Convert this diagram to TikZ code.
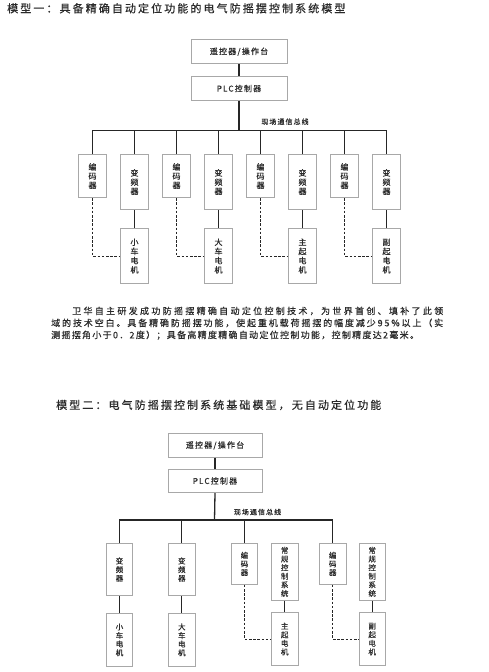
\documentclass[tikz,border=0pt]{standalone}
\usepackage{fontspec}
\setmainfont{Noto Sans CJK SC}
\newfontfamily\cjktitle[LetterSpace=19, FakeBold=0.6]{Noto Sans CJK SC}
\newfontfamily\cjkbox[LetterSpace=15, FakeBold=0.5]{Noto Sans CJK SC}
\newfontfamily\cjkpara[FakeBold=0.5]{Noto Sans CJK SC}
\usetikzlibrary{positioning}
\definecolor{ink}{HTML}{2A2A2A}
\definecolor{frame}{HTML}{A8A8A8}
% glue after every character of a line, so that it can be spread
\ExplSyntaxOn
\NewDocumentCommand\spreadtext{m}{\tl_map_inline:nn {#1} {##1\hskip 1.3pt plus 4pt}\unskip}
\ExplSyntaxOff

\begin{document}
\begin{tikzpicture}[
  x=1pt, y=-1pt,
  block/.style={
    draw=frame,
    line width=.8pt,
    fill=white,
    inner sep=0pt,
    align=center,
    text=ink
  },
  wide/.style={block, minimum width=96pt, minimum height=24pt,
    font=\cjkbox\fontsize{8}{9}\selectfont},
  tall/.style={block, anchor=north, minimum width=28.4pt,
    font=\cjkbox\fontsize{8}{9.2}\selectfont},
  narrow/.style={block, anchor=north, minimum width=26.6pt,
    font=\cjkbox\fontsize{7.5}{8.6}\selectfont},
  coder/.style={tall, minimum height=43.3pt},
  drive/.style={tall, minimum height=55.3pt},
  motor/.style={tall, minimum height=55pt},
  link/.style={draw=black!85, line width=1.3pt},
  sensor/.style={draw=black!85, line width=.9pt, dash pattern=on 2.6pt off 1.6pt},
  heading/.style={anchor=west, inner sep=0pt, text=ink,
    font=\cjktitle\fontsize{11}{13}\selectfont},
  buslabel/.style={inner sep=0pt, text=ink,
    font=\cjkbox\fontsize{7}{8}\selectfont}
]
\useasboundingbox (0,0) rectangle (489,672);

% model one
\node[heading] (title-a) at (7,8.3)
  {模型一：具备精确自动定位功能的电气防摇摆控制系统模型};
\node[wide, anchor=north] (remote-a) at (239,39.3) {遥控器/操作台};
\node[wide, below=12pt of remote-a] (plc-a) {PLC控制器};
\coordinate (bus-a) at (239,130.5);
\node[buslabel] (label-a) at (285,121.7) {现场通信总线};

\node[coder] (enc-a1) at (92.5,154) {编\\码\\器};
\node[drive] (inv-a1) at (134.5,154) {变\\频\\器};
\node[motor, below=18pt of inv-a1] (mot-a1) {小\\车\\电\\机};
\node[coder] (enc-a2) at (176.5,154) {编\\码\\器};
\node[drive] (inv-a2) at (218.5,154) {变\\频\\器};
\node[motor, below=18pt of inv-a2] (mot-a2) {大\\车\\电\\机};
\node[coder] (enc-a3) at (260.5,154) {编\\码\\器};
\node[drive] (inv-a3) at (302.5,154) {变\\频\\器};
\node[motor, below=18pt of inv-a3] (mot-a3) {主\\起\\电\\机};
\node[coder] (enc-a4) at (344.5,154) {编\\码\\器};
\node[drive] (inv-a4) at (386.5,154) {变\\频\\器};
\node[motor, below=18pt of inv-a4] (mot-a4) {副\\起\\电\\机};

\draw[link] (remote-a) -- (plc-a);
\draw[link] (plc-a.south) -- (bus-a);
\draw[link] (enc-a1.north) |- (bus-a) -| (inv-a4.north);
\foreach \n in {inv-a1,enc-a2,inv-a2,enc-a3,inv-a3,enc-a4}
  \draw[link] (\n.north) -- (\n.north |- bus-a);
\foreach \i in {1,...,4} {
  \draw[link] (inv-a\i) -- (mot-a\i);
  \draw[sensor] (enc-a\i.south) |- (mot-a\i.west);
}

\node[anchor=north west, inner sep=0pt, align=left, text=ink,
  font=\cjkpara\fontsize{9}{12}\selectfont] (note) at (51,306.5)
  {\hspace*{21pt}\makebox[371pt][s]{\spreadtext{卫华自主研发成功防摇摆精确自动定位控制技术，为世界首创、填补了此领}}\\
   \makebox[392pt][s]{\spreadtext{域的技术空白。具备精确防摇摆功能，使起重机载荷摇摆的幅度减少95\%以上（实}}\\
   \spreadtext{测摇摆角小于0．2度）；具备高精度精确自动定位控制功能，控制精度达2毫米。}};

% model two
\node[heading] (title-b) at (56,405)
  {模型二：电气防摇摆控制系统基础模型，无自动定位功能};
\node[wide, anchor=north, minimum width=94pt, minimum height=23.4pt] (remote-b)
  at (215,433.3) {遥控器/操作台};
\node[wide, minimum width=94pt, minimum height=23.4pt, below=11.3pt of remote-b]
  (plc-b) {PLC控制器};
\coordinate (bus-b) at (214.5,520);
\node[buslabel] (label-b) at (257.5,512) {现场通信总线};

\node[narrow, minimum height=52.3pt] (inv-b1) at (119.5,543) {变\\频\\器};
\node[narrow, minimum height=52.7pt, below=17pt of inv-b1] (mot-b1) {小\\车\\电\\机};
\node[narrow, minimum height=52.3pt] (inv-b2) at (181.8,543) {变\\频\\器};
\node[narrow, minimum height=52.7pt, below=17pt of inv-b2] (mot-b2) {大\\车\\电\\机};
\node[narrow, minimum height=41pt] (enc-b3) at (244.5,543) {编\\码\\器};
\node[narrow, minimum height=57pt] (ctl-b3) at (284.7,543) {常\\规\\控\\制\\系\\统};
\node[narrow, minimum height=52.7pt] (mot-b3) at (284.7,612.3) {主\\起\\电\\机};
\node[narrow, minimum height=41pt] (enc-b4) at (332.7,543) {编\\码\\器};
\node[narrow, minimum height=57pt] (ctl-b4) at (372.2,543) {常\\规\\控\\制\\系\\统};
\node[narrow, minimum height=52.7pt] (mot-b4) at (372.2,612.3) {副\\起\\电\\机};

\draw[link] (remote-b) -- (plc-b);
\draw[link] (plc-b.south) -- (bus-b);
\draw[link] (inv-b1.north) |- (bus-b) -| (enc-b4.north);
\foreach \n in {inv-b2,enc-b3}
  \draw[link] (\n.north) -- (\n.north |- bus-b);
\draw[link] (inv-b1) -- (mot-b1);
\draw[link] (inv-b2) -- (mot-b2);
\draw[link] (ctl-b3) -- (mot-b3);
\draw[link] (ctl-b4) -- (mot-b4);
\draw[sensor] (enc-b3.south) |- (mot-b3.west);
\draw[sensor] (enc-b4.south) |- (mot-b4.west);
\end{tikzpicture}
\end{document}
